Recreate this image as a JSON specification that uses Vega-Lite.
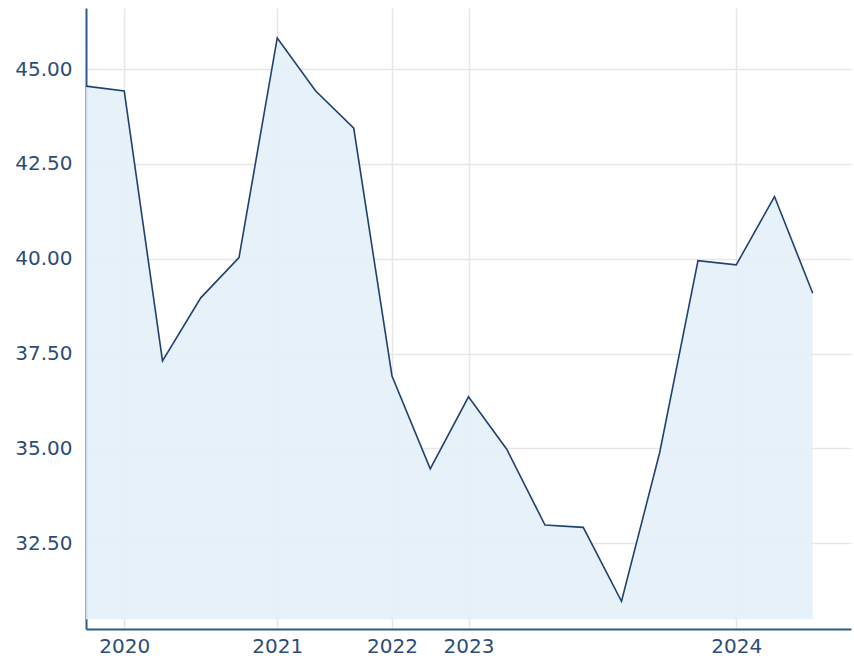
{
  "$schema": "https://vega.github.io/schema/vega-lite/v6.json",
  "autosize": {"type": "none"},
  "padding": {"left": 86, "top": 8, "right": 3, "bottom": 32},
  "width": 765,
  "height": 621,
  "background": "white",
  "data": {"values": [
    {"i": 0, "v": 44.55},
    {"i": 1, "v": 44.42},
    {"i": 2, "v": 37.31},
    {"i": 3, "v": 38.97},
    {"i": 4, "v": 40.03},
    {"i": 5, "v": 45.82},
    {"i": 6, "v": 44.43},
    {"i": 7, "v": 43.44},
    {"i": 8, "v": 36.91},
    {"i": 9, "v": 34.46},
    {"i": 10, "v": 36.36},
    {"i": 11, "v": 34.98},
    {"i": 12, "v": 32.98},
    {"i": 13, "v": 32.92},
    {"i": 14, "v": 30.97},
    {"i": 15, "v": 34.9},
    {"i": 16, "v": 39.95},
    {"i": 17, "v": 39.84},
    {"i": 18, "v": 41.64},
    {"i": 19, "v": 39.09}
  ]},
  "config": {
    "view": {"stroke": null},
    "axis": {
      "labelFont": "DejaVu Sans",
      "labelFontSize": 20,
      "labelColor": "#2c4d75",
      "domainColor": "#2f5b8c",
      "domainWidth": 2,
      "gridColor": "#e6e6e6",
      "gridWidth": 1.5,
      "ticks": false,
      "title": null
    }
  },
  "layer": [
    {
      "mark": {"type": "area", "color": "#e3eff9", "opacity": 0.9},
      "encoding": {
        "x": {"field": "i", "type": "quantitative", "scale": {"domain": [0, 20], "nice": false, "zero": false},
          "axis": {"values": [1, 5, 8, 10, 17], "labelExpr": "datum.value == 1 ? '2020' : datum.value == 5 ? '2021' : datum.value == 8 ? '2022' : datum.value == 10 ? '2023' : '2024'", "labelPadding": 7, "labelFlush": false}},
        "y": {"field": "v", "type": "quantitative", "scale": {"domain": [30.24, 46.61], "nice": false, "zero": false},
          "axis": {"values": [32.5, 35, 37.5, 40, 42.5, 45], "format": ".2f", "labelPadding": 14, "zindex": 0}},
        "y2": {"datum": 30.5}
      }
    },
    {
      "mark": {"type": "line", "color": "#1f4270", "strokeWidth": 1.6},
      "encoding": {
        "x": {"field": "i", "type": "quantitative"},
        "y": {"field": "v", "type": "quantitative"}
      }
    }
  ]
}
